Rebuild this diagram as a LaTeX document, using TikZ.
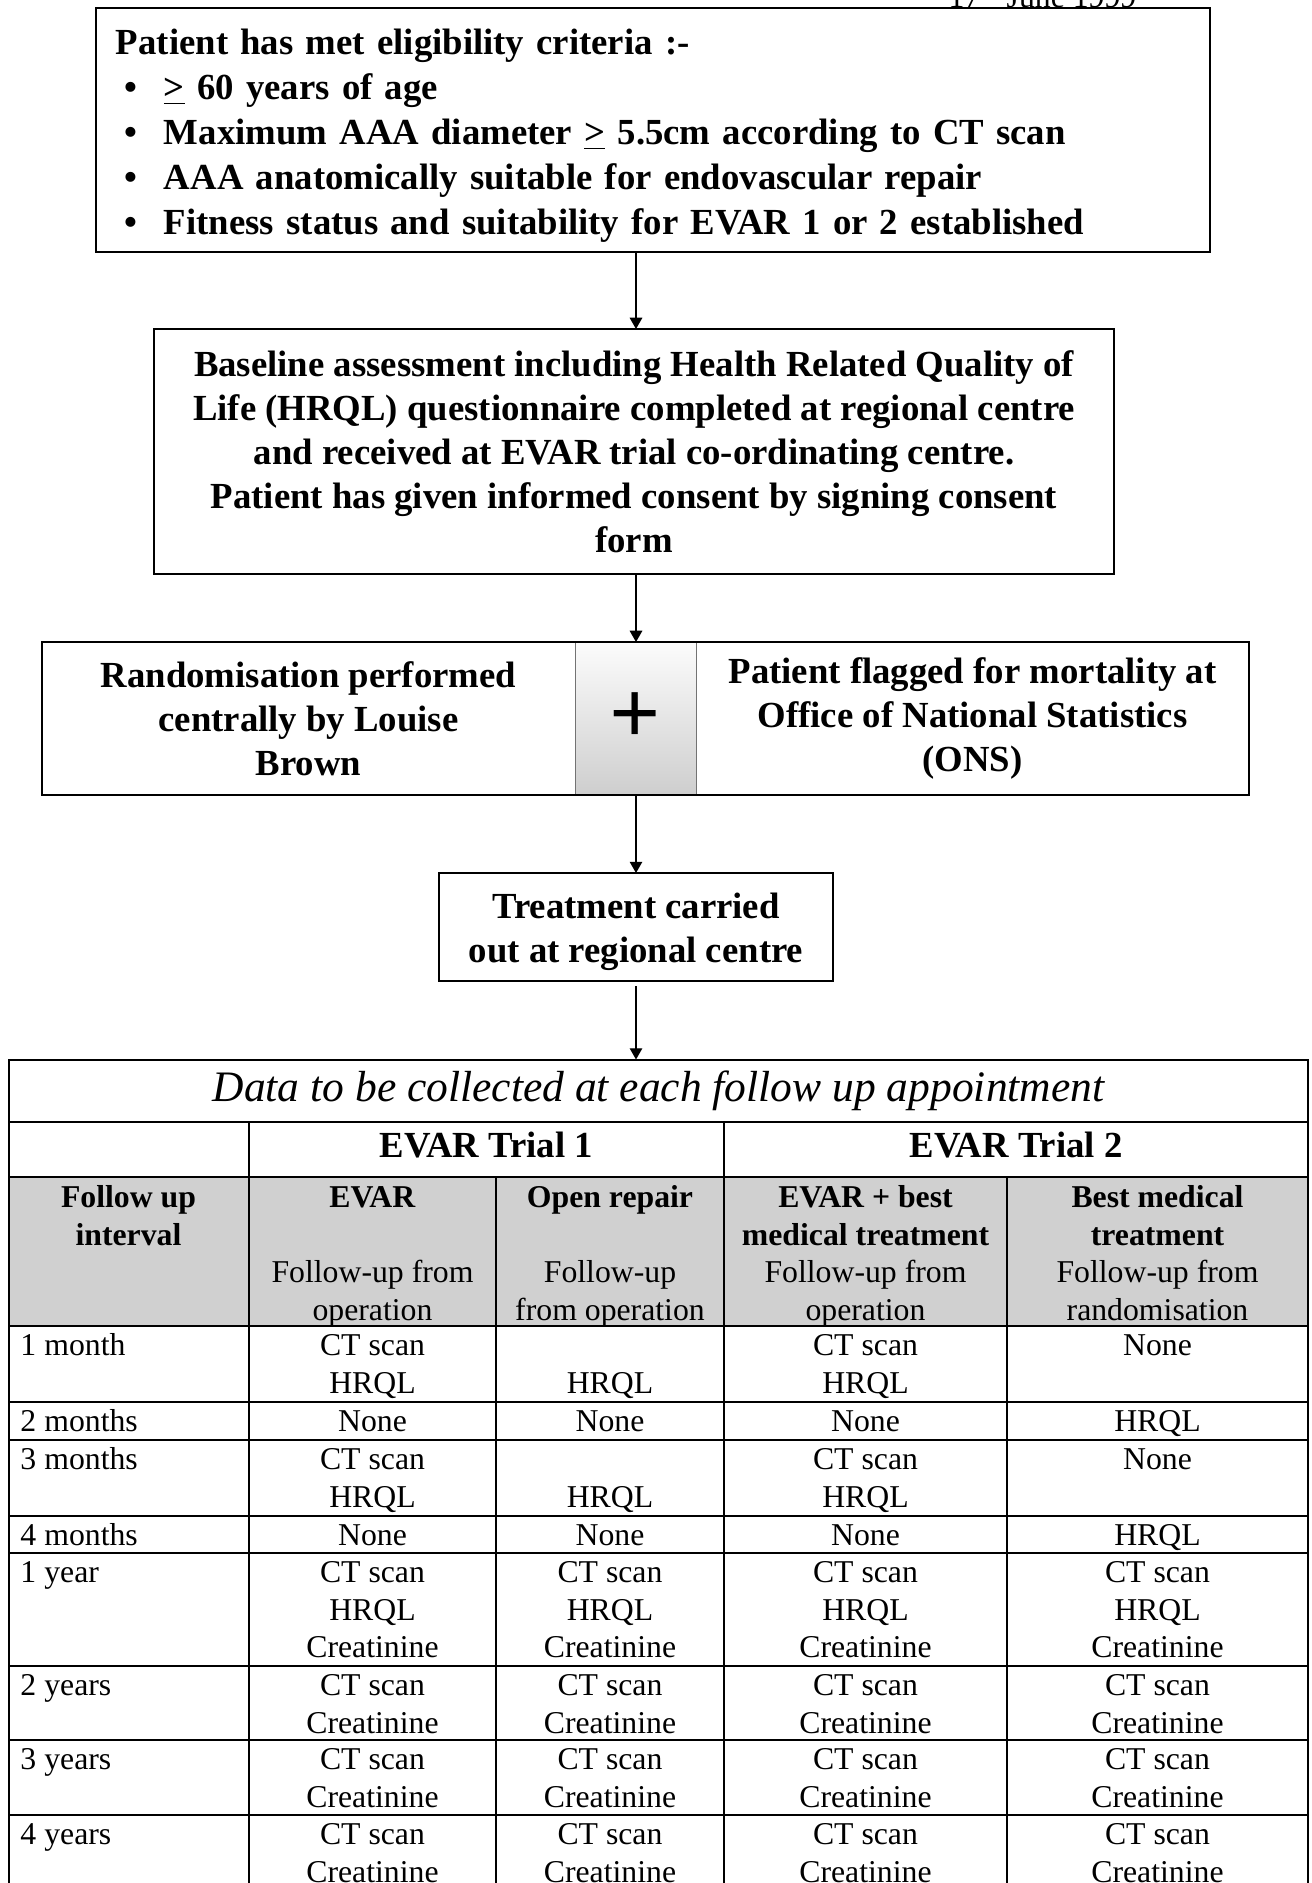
\documentclass[tikz,border=0pt]{standalone}
\usepackage{fontspec}
\setmainfont{Liberation Serif}
\usetikzlibrary{arrows.meta,positioning}

\definecolor{hdrgray}{RGB}{208,208,208}
\definecolor{plustop}{RGB}{252,252,252}
\definecolor{plusbot}{RGB}{206,206,206}

\newcommand{\critem}{\hspace*{3.6pt}\makebox[15.6pt][l]{\textbullet}}
\newcommand{\geqline}{\underline{>}}

\tikzset{
  flowbox/.style={draw, line width=0.8pt, inner sep=0pt, outer sep=0pt, align=center,
    font=\fontsize{14.7}{17.6}\selectfont\bfseries},
  cell/.style={inner sep=0pt, anchor=north, align=center, font=\fontsize{12.7}{15}\selectfont},
  arr/.style={-{Triangle[width=5pt,length=4.5pt]}, line width=0.55pt},
  tabline/.style={line width=0.8pt}
}

\begin{document}
\begin{tikzpicture}[x=0.4pt, y=-0.4pt]
\useasboundingbox (0,0) rectangle (1311,1883);

% Date, cut by the top of the page
\node[anchor=base west, inner sep=0pt, font=\fontsize{12.7}{15}\selectfont] (date) at (948,8) {17\textsuperscript{th} June 1999};

% Flow boxes
\node[flowbox, fill=white, align=left, inner xsep=8pt, text width=429.6pt, minimum height=97.6pt,
  font=\fontsize{14.7}{18}\selectfont\bfseries] (crit) at (653,130)
  {\rule{0pt}{15pt}Patient has met eligibility criteria :-\\
   \critem\geqline{} 60 years of age\\
   \critem Maximum AAA diameter \geqline{} 5.5cm according to CT scan\\
   \critem AAA anatomically suitable for endovascular repair\\
   \critem Fitness status and suitability for EVAR 1 or 2 established};

\node[flowbox, minimum width=384pt, minimum height=98pt] (base) at (634,451.5)
  {Baseline assessment including Health Related Quality of\\
   Life (HRQL) questionnaire completed at regional centre\\
   and received at EVAR trial co-ordinating centre.\\
   Patient has given informed consent by signing consent\\
   form};

\node[flowbox, draw=none, minimum width=213.2pt, minimum height=61.2pt] (rand) at (308.5,718.5)
  {Randomisation performed\\centrally by Louise\\Brown};
\node[inner sep=0pt, outer sep=0pt, minimum width=48.4pt, minimum height=61.2pt,
  top color=plustop, bottom color=plusbot, font=\fontsize{36}{36}\selectfont\bfseries,
  right=0pt of rand] (plus) {+};
\node[flowbox, draw=none, minimum width=221.2pt, minimum height=61.2pt, right=0pt of plus] (ons)
  {Patient flagged for mortality at\\Office of National Statistics\\(ONS)};
\draw[line width=0.4pt, black!55] (plus.north west) -- (plus.south west)
  (plus.north east) -- (plus.south east);
\draw[line width=0.8pt] (rand.north west) rectangle (ons.south east);

\node[flowbox, minimum width=157.6pt, minimum height=43.2pt] (treat) at (636,927)
  {\rule{0pt}{14pt}Treatment carried\\out at regional centre};

% Table
\fill[hdrgray] (9,1177) rectangle (1308,1326);
\draw[tabline] (9,1060) rectangle (1308,1891);
\foreach \ry in {1122,1177,1326,1402,1440,1516,1553,1666,1740,1815}
  \draw[tabline] (9,\ry) -- (1308,\ry);
\draw[tabline] (249,1122) -- (249,1891);
\draw[tabline] (724,1122) -- (724,1891);
\draw[tabline] (496,1177) -- (496,1891);
\draw[tabline] (1007,1177) -- (1007,1891);

\node[inner sep=0pt, minimum width=519.6pt, minimum height=24.8pt,
  font=\fontsize{17.4}{20}\selectfont\itshape] (title) at (658.5,1091)
  {Data to be collected at each follow up appointment};

\node[anchor=base, font=\fontsize{14.7}{17.6}\selectfont\bfseries] (trialA) at (486.5,1157) {EVAR Trial 1};
\node[anchor=base, font=\fontsize{14.7}{17.6}\selectfont\bfseries] (trialB) at (1016,1157) {EVAR Trial 2};

% Header row
\node[cell] (hdInt) at (128.5,1181) {\strut\textbf{Follow up}\\\textbf{interval}};
\node[cell] (hdEvar) at (372.5,1181) {\strut\textbf{EVAR}\\\strut\\Follow-up from\\operation};
\node[cell] (hdOpen) at (610,1181) {\strut\textbf{Open repair}\\\strut\\Follow-up\\from operation};
\node[cell] (hdEvarBest) at (865.5,1181) {\strut\textbf{EVAR + best}\\\textbf{medical treatment}\\Follow-up from\\operation};
\node[cell] (hdBest) at (1157.5,1181) {\strut\textbf{Best medical}\\\textbf{treatment}\\Follow-up from\\randomisation};

% Follow up rows
\foreach \ry/\lab/\cA/\cB/\cC/\cD in {
  1326/1 month/CT scan\\HRQL/\\HRQL/CT scan\\HRQL/None,
  1402/2 months/None/None/None/HRQL,
  1440/3 months/CT scan\\HRQL/\\HRQL/CT scan\\HRQL/None,
  1516/4 months/None/None/None/HRQL,
  1553/1 year/CT scan\\HRQL\\Creatinine/CT scan\\HRQL\\Creatinine/CT scan\\HRQL\\Creatinine/CT scan\\HRQL\\Creatinine,
  1666/2 years/CT scan\\Creatinine/CT scan\\Creatinine/CT scan\\Creatinine/CT scan\\Creatinine,
  1740/3 years/CT scan\\Creatinine/CT scan\\Creatinine/CT scan\\Creatinine/CT scan\\Creatinine,
  1815/4 years/CT scan\\Creatinine/CT scan\\Creatinine/CT scan\\Creatinine/CT scan\\Creatinine}
{
  \node[cell, anchor=north west] (lab\ry) at (20,\ry+3) {\strut\lab};
  \node[cell] (evar\ry) at (372.5,\ry+3) {\strut\cA};
  \node[cell] (open\ry) at (610,\ry+3) {\strut\cB};
  \node[cell] (evarbest\ry) at (865.5,\ry+3) {\strut\cC};
  \node[cell] (best\ry) at (1157.5,\ry+3) {\strut\cD};
}

% Arrows
\draw[arr] (crit.south -| treat) -- (base.north -| treat);
\draw[arr] (base.south -| treat) -- (rand.north -| treat);
\draw[arr] (rand.south -| treat) -- (treat.north);
\draw[arr, shorten <=2pt] (treat.south) -- (title.north -| treat);
\end{tikzpicture}
\end{document}
